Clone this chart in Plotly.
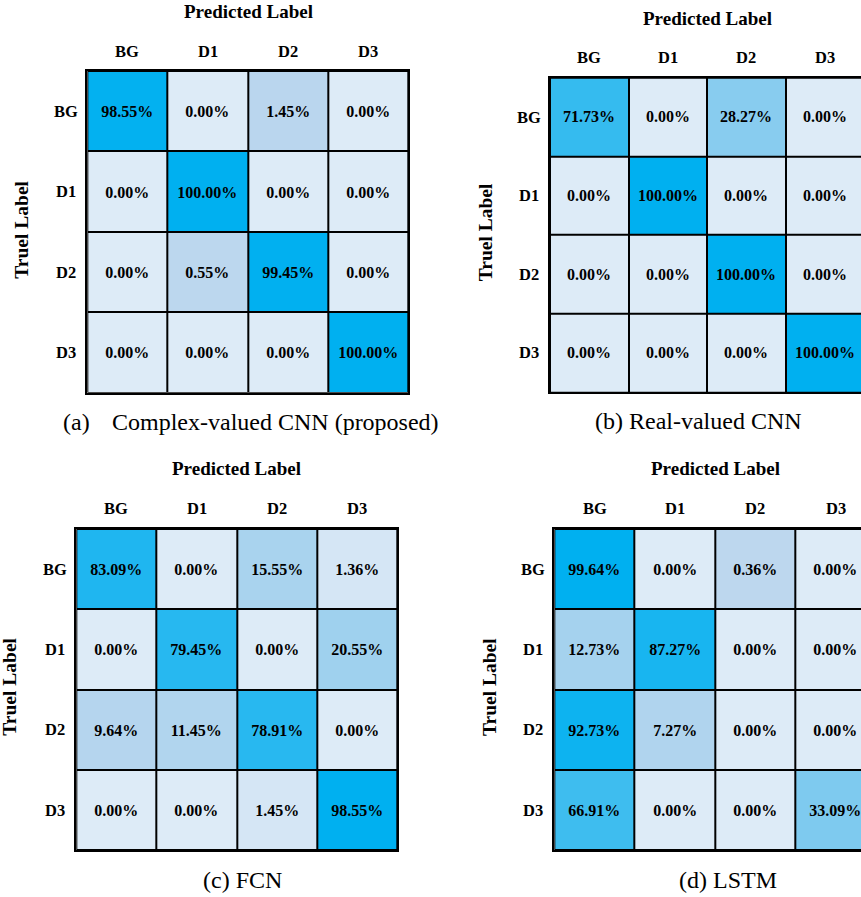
import numpy as np
import plotly.graph_objects as go

W, H = 861, 897

labels = ["BG", "D1", "D2", "D3"]

cm_complex_cnn = [[98.55, 0.00, 1.45, 0.00],
                  [0.00, 100.00, 0.00, 0.00],
                  [0.00, 0.55, 99.45, 0.00],
                  [0.00, 0.00, 0.00, 100.00]]
cm_real_cnn = [[71.73, 0.00, 28.27, 0.00],
               [0.00, 100.00, 0.00, 0.00],
               [0.00, 0.00, 100.00, 0.00],
               [0.00, 0.00, 0.00, 100.00]]
cm_fcn = [[83.09, 0.00, 15.55, 1.36],
          [0.00, 79.45, 0.00, 20.55],
          [9.64, 11.45, 78.91, 0.00],
          [0.00, 0.00, 1.45, 98.55]]
cm_lstm = [[99.64, 0.00, 0.36, 0.00],
           [12.73, 87.27, 0.00, 0.00],
           [92.73, 7.27, 0.00, 0.00],
           [66.91, 0.00, 0.00, 33.09]]

caption_prefix = ["(a)", "", "", ""]
captions = ["Complex-valued CNN (proposed)", "(b) Real-valued CNN", "(c) FCN", "(d) LSTM"]

FONT = "Liberation Serif, Times New Roman, serif"
C_MIN, C_MID, C_MAX = "#DDEBF7", "#BDD7EE", "#00B0F0"

# layout geometry in pixels (grid left, grid right, grid top, grid bottom)
panels = [
    dict(cm=cm_complex_cnn, l=87.3, r=408.3, t=71, b=392.7,
         pred=(248.3, 11), col_y=51.7, row_x=66, true=(21.7, 230),
         cap=(275, 421.7), pre=(76.5, 421.7)),
    dict(cm=cm_real_cnn, l=550, r=864, t=77.7, b=392.3,
         pred=(707, 19), col_y=57.3, row_x=529.2, true=(485.8, 232.5),
         cap=(698, 420.7), pre=None),
    dict(cm=cm_fcn, l=76.3, r=397.3, t=529, b=850.3,
         pred=(236.7, 469), col_y=508.7, row_x=55.3, true=(10, 686.7),
         cap=(242.5, 880), pre=None),
    dict(cm=cm_lstm, l=554.3, r=876, t=529, b=850.3,
         pred=(715.5, 469), col_y=508.7, row_x=533.3, true=(489, 687),
         cap=(727.7, 880), pre=None),
]

fig = go.Figure()
annotations = []

def px(x):
    return x / W

def py(y):
    return 1 - y / H

for i, p in enumerate(panels):
    k = "" if i == 0 else str(i + 1)
    z = np.array(p["cm"], dtype=float)
    zmin, zmax = z.min(), z.max()
    med = np.percentile(z, 50)
    mid = max((med - zmin) / (zmax - zmin), 1e-9)
    cs = [[0, C_MIN], [mid, C_MID], [1, C_MAX]]
    fig.add_trace(go.Heatmap(
        z=z, x=labels, y=labels, zmin=zmin, zmax=zmax, colorscale=cs,
        showscale=False, xgap=2, ygap=2,
        texttemplate="%{z:.2f}%",
        textfont=dict(family=FONT, size=16, color="black", weight="bold"),
        hoverinfo="skip",
        xaxis="x" + k, yaxis="y" + k,
    ))
    cellw = (p["r"] - p["l"]) / 4
    vis_r = min(p["r"], W)
    clipped = p["r"] > W
    xr = [-0.5, -0.5 + (vis_r - p["l"]) / cellw]
    fig.update_layout(**{
        "xaxis" + k: dict(domain=[px(p["l"]), px(vis_r)], range=xr,
                          showticklabels=False, ticks="", showgrid=False,
                          zeroline=False, showline=True, mirror=True,
                          linecolor="black", linewidth=2,
                          anchor="y" + k, fixedrange=True),
        "yaxis" + k: dict(domain=[py(p["b"]), py(p["t"])], range=[3.5, -0.5],
                          showticklabels=False, ticks="", showgrid=False,
                          zeroline=False, showline=True, mirror=not clipped,
                          linecolor="black", linewidth=2,
                          anchor="x" + k, fixedrange=True),
    })
    bold = dict(family=FONT, size=16.5, color="black", weight="bold")
    for lab in labels:
        annotations.append(dict(x=lab, xref="x" + k, y=py(p["col_y"]), yref="paper",
                                text=lab, showarrow=False, font=bold,
                                xanchor="center", yanchor="middle"))
        annotations.append(dict(x=px(p["row_x"]), xref="paper", y=lab, yref="y" + k,
                                text=lab, showarrow=False, font=bold,
                                xanchor="center", yanchor="middle"))
    annotations.append(dict(x=px(p["pred"][0]), y=py(p["pred"][1]), xref="paper", yref="paper",
                            text="Predicted Label", showarrow=False,
                            font=dict(family=FONT, size=19, color="black", weight="bold"),
                            xanchor="center", yanchor="middle"))
    annotations.append(dict(x=px(p["true"][0]), y=py(p["true"][1]), xref="paper", yref="paper",
                            text="Truel Label", showarrow=False, textangle=-90,
                            font=dict(family=FONT, size=19.5, color="black", weight="bold"),
                            xanchor="center", yanchor="middle"))
    annotations.append(dict(x=px(p["cap"][0]), y=py(p["cap"][1]), xref="paper", yref="paper",
                            text=captions[i], showarrow=False,
                            font=dict(family=FONT, size=24, color="black"),
                            xanchor="center", yanchor="middle"))
    if p["pre"] is not None:
        annotations.append(dict(x=px(p["pre"][0]), y=py(p["pre"][1]), xref="paper", yref="paper",
                                text=caption_prefix[i], showarrow=False,
                                font=dict(family=FONT, size=24, color="black"),
                                xanchor="center", yanchor="middle"))

fig.update_layout(
    width=W, height=H, margin=dict(l=0, r=0, t=0, b=0),
    paper_bgcolor="white", plot_bgcolor="black",
    annotations=annotations, showlegend=False,
)

fig.write_html("out.html", config={"displayModeBar": False},
               post_script="document.body.style.margin='0';document.body.style.overflow='hidden';")
